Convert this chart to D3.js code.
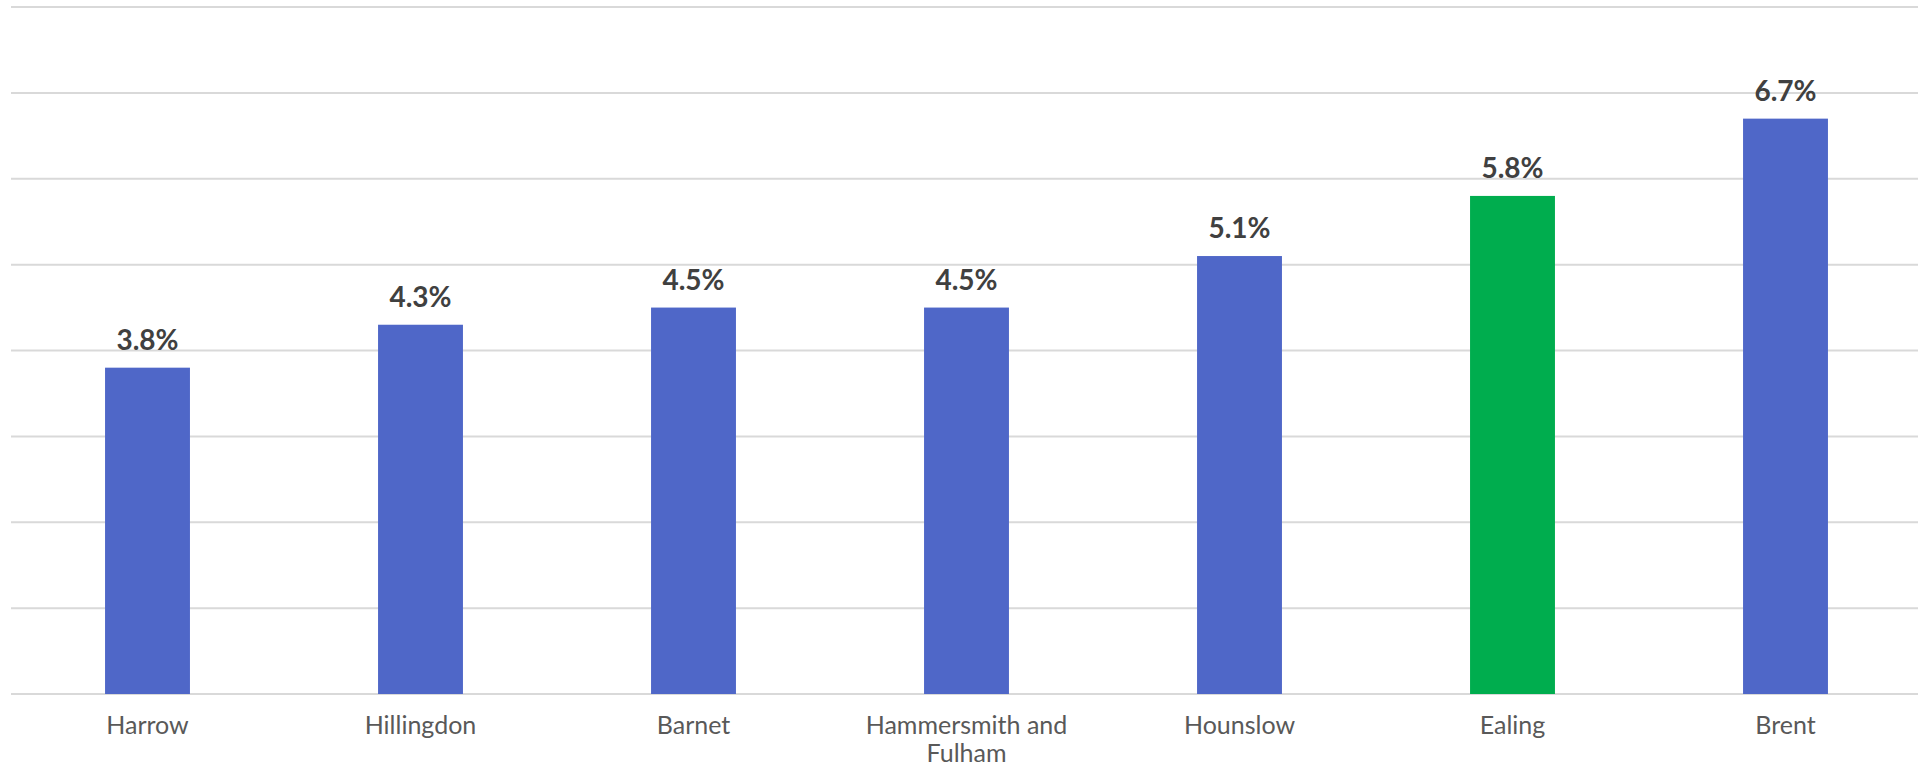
<!DOCTYPE html>
<html>
<head>
<meta charset="utf-8">
<script src="https://cdn.jsdelivr.net/npm/d3@7"></script>
<style>
  body { margin: 0; background: #fff; }
  #chart { width: 1918px; height: 768px; overflow: hidden; }
</style>
</head>
<body>
<div id="chart"></div>
<script>
// data
var boroughs = ["Harrow", "Hillingdon", "Barnet", "Hammersmith and Fulham", "Hounslow", "Ealing", "Brent"];
var rates = [3.8, 4.3, 4.5, 4.5, 5.1, 5.8, 6.7];
var highlight = "Ealing";
var yTicks = [0, 1, 2, 3, 4, 5, 6, 7, 8];

var data = boroughs.map(function(b, i) { return {name: b, value: rates[i]}; });

// svg area
var W = 1918, H = 768;
var svg = d3.select("#chart")
  .append("svg")
    .attr("width", W)
    .attr("height", H);

// scales
var x = d3.scaleBand()
  .domain(boroughs)
  .range([11, 1922])
  .paddingInner(0.689)
  .paddingOuter(0.3445);

var y = d3.scaleLinear()
  .domain([0, 8])
  .range([694, 7]);

// gridlines
svg.append("g")
  .selectAll("line")
  .data(yTicks)
  .enter()
  .append("line")
    .attr("x1", 11)
    .attr("x2", W)
    .attr("y1", function(d) { return y(d); })
    .attr("y2", function(d) { return y(d); })
    .style("stroke", "#d9d9d9")
    .style("stroke-width", 2);

// bars
svg.append("g")
  .selectAll("rect")
  .data(data)
  .enter()
  .append("rect")
    .attr("x", function(d) { return x(d.name); })
    .attr("width", x.bandwidth())
    .attr("y", function(d) { return y(d.value); })
    .attr("height", function(d) { return y(0) - y(d.value); })
    .style("fill", function(d) { return d.name == highlight ? "#00ad4e" : "#4f67c8"; });

// value labels
svg.append("g")
  .selectAll("text")
  .data(data)
  .enter()
  .append("text")
    .attr("x", function(d) { return x(d.name) + x.bandwidth() / 2; })
    .attr("y", function(d) { return y(d.value) - 18; })
    .attr("text-anchor", "middle")
    .style("font-family", "Lato, 'Open Sans', sans-serif")
    .style("font-weight", "bold")
    .style("font-size", "28px")
    .style("fill", "#404040")
    .text(function(d) { return d.value.toFixed(1) + "%"; });

// x axis labels (wrapped)
var xAxis = svg.append("g")
  .attr("transform", "translate(0," + y(0) + ")")
  .call(d3.axisBottom(x).tickSize(0).tickPadding(0));
xAxis.select(".domain").remove();

xAxis.selectAll(".tick text")
  .attr("y", 40)
  .attr("dy", 0)
  .style("font-family", "Lato, 'Open Sans', sans-serif")
  .style("font-size", "25px")
  .style("fill", "#595959")
  .each(function(d) {
    var t = d3.select(this);
    var words = d.split(" ");
    t.text(null);
    var line = [];
    var tspan = t.append("tspan").attr("x", 0).attr("dy", 0);
    words.forEach(function(w) {
      line.push(w);
      tspan.text(line.join(" "));
      if (tspan.node().getComputedTextLength() > 240 && line.length > 1) {
        line.pop();
        tspan.text(line.join(" "));
        line = [w];
        tspan = t.append("tspan").attr("x", 0).attr("dy", 28).text(w);
      }
    });
  });
</script>
</body>
</html>
